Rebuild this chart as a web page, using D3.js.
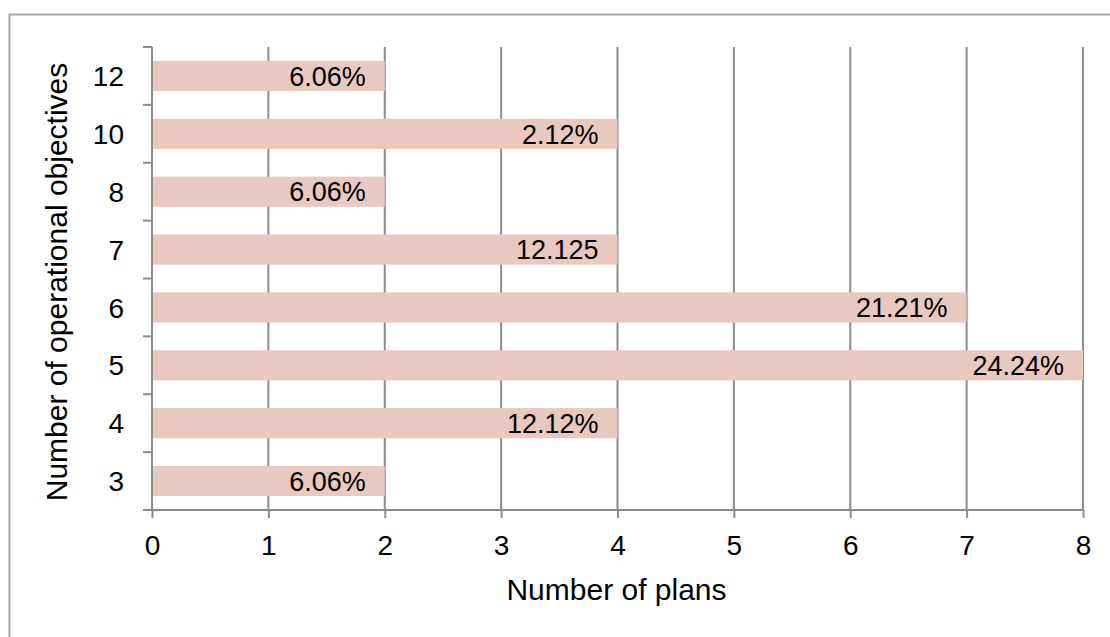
<!DOCTYPE html>
<html>
<head>
<meta charset="utf-8">
<script src="https://cdn.jsdelivr.net/npm/d3@7"></script>
<style>
  html, body { margin: 0; padding: 0; background: #fff; }
  svg { display: block; }
  text { font-family: "Liberation Sans", Arial, sans-serif; fill: #000; }
</style>
</head>
<body>
<svg id="chart" width="1110" height="637"></svg>
<script>
// Number of operational objectives per plan
const categories = ["12", "10", "8", "7", "6", "5", "4", "3"];
const plans = [2, 4, 2, 4, 7, 8, 4, 2];
const shareLabels = ["6.06%", "2.12%", "6.06%", "12.125", "21.21%", "24.24%", "12.12%", "6.06%"];
const xTicks = [0, 1, 2, 3, 4, 5, 6, 7, 8];

const svg = d3.select("#chart");
const gridColor = "#8c8c8c";

// outer frame
svg.append("rect")
  .attr("x", 9.5).attr("y", 14.5)
  .attr("width", 1200).attr("height", 700)
  .attr("fill", "none").attr("stroke", "#a6a6a6").attr("stroke-width", 2);

const plotLeft = 152, plotRight = 1083, plotTop = 47, plotBottom = 510;

const x = d3.scaleLinear().domain([0, 8]).range([plotLeft, plotRight]);
const y = d3.scaleBand().domain(categories).range([plotTop, plotBottom]).paddingInner(0.48).paddingOuter(0.24);

// vertical gridlines
svg.append("g").selectAll("line")
  .data(xTicks.slice(1))
  .join("line")
  .attr("x1", d => x(d)).attr("x2", d => x(d))
  .attr("y1", plotTop).attr("y2", plotBottom)
  .attr("stroke", gridColor).attr("stroke-width", 2);

// bars
svg.append("g").selectAll("rect")
  .data(categories)
  .join("rect")
  .attr("x", x(0))
  .attr("y", d => y(d))
  .attr("width", (d, i) => x(plans[i]) - x(0))
  .attr("height", y.bandwidth())
  .attr("fill", "#e8c8bf");

// value labels inside bar ends
svg.append("g").selectAll("text")
  .data(categories)
  .join("text")
  .attr("x", (d, i) => x(plans[i]) - 19)
  .attr("y", d => y(d) + y.bandwidth() / 2)
  .attr("dy", "0.36em")
  .attr("text-anchor", "end")
  .attr("font-size", 27)
  .text((d, i) => shareLabels[i]);

// x axis
const xAxis = svg.append("g")
  .attr("transform", `translate(0,${plotBottom})`)
  .call(d3.axisBottom(x).tickValues(xTicks).tickSize(8).tickPadding(17).tickFormat(d3.format("d")));
xAxis.select(".domain").attr("stroke", gridColor).attr("stroke-width", 2)
  .attr("d", `M${plotLeft - 9},0H${plotRight}`);
xAxis.selectAll(".tick line").attr("stroke", gridColor).attr("stroke-width", 2);
xAxis.selectAll(".tick text")
  .attr("font-size", 28)
  .attr("font-family", "Liberation Sans, Arial, sans-serif")
  .attr("fill", "#000");

// y axis: ticks sit on band boundaries
const yAxis = svg.append("g").attr("transform", `translate(${plotLeft},0)`);
yAxis.append("line")
  .attr("x1", 0).attr("x2", 0).attr("y1", plotTop).attr("y2", plotBottom)
  .attr("stroke", gridColor).attr("stroke-width", 2);
const step = (plotBottom - plotTop) / categories.length;
yAxis.selectAll("line.tk")
  .data(d3.range(categories.length + 1))
  .join("line")
  .attr("class", "tk")
  .attr("x1", -9).attr("x2", 0)
  .attr("y1", i => plotTop + i * step).attr("y2", i => plotTop + i * step)
  .attr("stroke", gridColor).attr("stroke-width", 2);
yAxis.selectAll("text")
  .data(categories)
  .join("text")
  .attr("x", -28)
  .attr("y", d => y(d) + y.bandwidth() / 2)
  .attr("dy", "0.36em")
  .attr("text-anchor", "end")
  .attr("font-size", 28)
  .text(d => d);

// axis titles
svg.append("text")
  .attr("x", (plotLeft + plotRight) / 2 - 1).attr("y", 600)
  .attr("text-anchor", "middle")
  .attr("font-size", 30)
  .text("Number of plans");

svg.append("text")
  .attr("transform", `translate(67,282) rotate(-90)`)
  .attr("text-anchor", "middle")
  .attr("font-size", 30)
  .text("Number of operational objectives");
</script>
</body>
</html>
